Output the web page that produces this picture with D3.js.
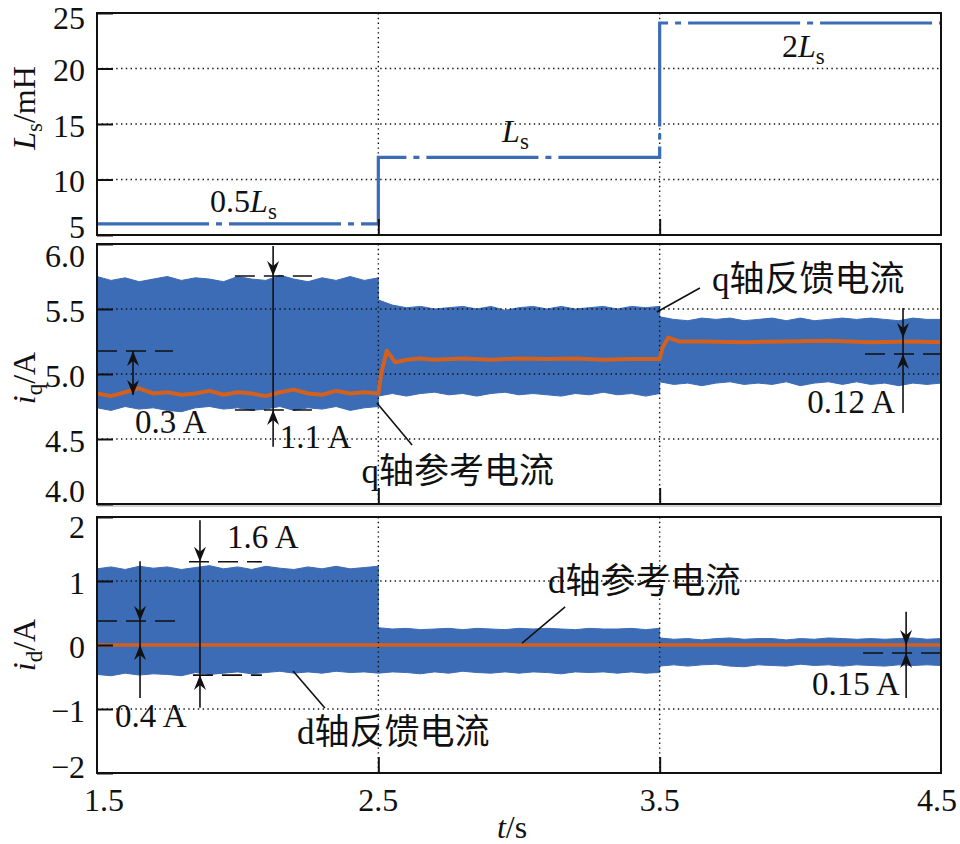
<!DOCTYPE html>
<html><head><meta charset="utf-8">
<script src="https://cdn.jsdelivr.net/npm/d3@7"></script>
<style>body{margin:0;background:#fff}svg{display:block}</style>
</head><body>
<svg id="c" width="960" height="844"></svg>
<script>
// ---------- data ----------
const xTicks = [1.5, 2.5, 3.5, 4.5];
const xTickLabels = ["1.5", "2.5", "3.5", "4.5"];
const lsTicks = [5, 10, 15, 20, 25];
const iqTicks = [4.0, 4.5, 5.0, 5.5, 6.0];
const iqTickLabels = ["4.0", "4.5", "5.0", "5.5", "6.0"];
const idTicks = [-2, -1, 0, 1, 2];
const idTickLabels = ["\u22122", "\u22121", "0", "1", "2"];

// inductance step profile (mH)
const lsTime   = [1.5, 2.5, 2.5, 3.5, 3.5, 4.5];
const lsValues = [6, 6, 12, 12, 24.1, 24.1];

// sample times of the current envelopes (s)
const bandTime = [
  1.5,1.55,1.6,1.65,1.7,1.75,1.8,1.85,1.9,1.95,2.0,2.05,2.1,2.15,2.2,2.25,2.3,2.35,2.4,2.45,2.5,
  2.5,2.55,2.6,2.65,2.7,2.75,2.8,2.85,2.9,2.95,3.0,3.05,3.1,3.15,3.2,3.25,3.3,3.35,3.4,3.45,3.5,
  3.5,3.55,3.6,3.65,3.7,3.75,3.8,3.85,3.9,3.95,4.0,4.05,4.1,4.15,4.2,4.25,4.3,4.35,4.4,4.45,4.5
];
// q-axis feedback current envelope (A)
const iqUpper = [
  5.75,5.72,5.74,5.71,5.73,5.75,5.72,5.74,5.73,5.71,5.75,5.73,5.72,5.76,5.73,5.71,5.74,5.72,5.75,5.72,5.74,
  5.57,5.53,5.51,5.52,5.50,5.51,5.52,5.50,5.52,5.49,5.51,5.52,5.50,5.52,5.50,5.51,5.52,5.50,5.52,5.51,5.52,
  5.44,5.42,5.41,5.43,5.42,5.43,5.41,5.42,5.43,5.41,5.43,5.41,5.42,5.43,5.42,5.43,5.42,5.41,5.43,5.42,5.42
];
const iqLower = [
  4.74,4.72,4.75,4.73,4.74,4.72,4.71,4.74,4.75,4.73,4.74,4.72,4.73,4.75,4.72,4.74,4.73,4.75,4.72,4.74,4.75,
  4.83,4.85,4.83,4.85,4.86,4.84,4.85,4.83,4.85,4.86,4.84,4.85,4.84,4.83,4.85,4.84,4.86,4.84,4.85,4.83,4.85,
  4.94,4.92,4.93,4.91,4.93,4.94,4.92,4.93,4.92,4.94,4.91,4.93,4.94,4.92,4.94,4.92,4.93,4.91,4.93,4.92,4.93
];
// q-axis reference current (A)
const iqRefTime = [
  1.5,1.55,1.6,1.65,1.7,1.75,1.8,1.85,1.9,1.95,2.0,2.05,2.1,2.15,2.2,2.25,2.3,2.35,2.4,2.45,2.5,
  2.51,2.53,2.56,2.6,2.65,2.7,2.8,2.9,3.0,3.1,3.2,3.3,3.4,3.5,
  3.51,3.53,3.57,3.65,3.8,3.95,4.1,4.25,4.4,4.5
];
const iqRefValues = [
  4.85,4.83,4.86,4.89,4.85,4.86,4.84,4.85,4.87,4.84,4.86,4.85,4.83,4.86,4.88,4.85,4.84,4.87,4.85,4.86,4.85,
  5.0,5.18,5.09,5.11,5.12,5.11,5.12,5.11,5.12,5.115,5.12,5.11,5.115,5.115,
  5.2,5.28,5.25,5.25,5.245,5.25,5.255,5.245,5.25,5.245
];
// d-axis feedback current envelope (A)
const idUpper = [
  1.19,1.22,1.18,1.23,1.20,1.22,1.18,1.21,1.24,1.19,1.22,1.18,1.23,1.20,1.18,1.22,1.19,1.23,1.19,1.21,1.23,
  0.27,0.25,0.26,0.24,0.25,0.26,0.24,0.26,0.25,0.24,0.26,0.25,0.26,0.25,0.24,0.26,0.25,0.25,0.26,0.24,0.26,
  0.11,0.09,0.10,0.08,0.10,0.11,0.09,0.10,0.10,0.08,0.10,0.09,0.11,0.10,0.09,0.10,0.09,0.10,0.11,0.09,0.10
];
const idLower = [
  -0.46,-0.48,-0.44,-0.47,-0.45,-0.46,-0.48,-0.43,-0.46,-0.44,-0.42,-0.45,-0.43,-0.41,-0.44,-0.42,-0.44,-0.41,-0.43,-0.42,-0.44,
  -0.44,-0.42,-0.43,-0.45,-0.42,-0.44,-0.41,-0.43,-0.44,-0.42,-0.44,-0.42,-0.43,-0.45,-0.42,-0.43,-0.42,-0.44,-0.42,-0.44,-0.43,
  -0.33,-0.31,-0.33,-0.31,-0.30,-0.33,-0.34,-0.31,-0.32,-0.33,-0.30,-0.32,-0.31,-0.33,-0.31,-0.32,-0.33,-0.31,-0.32,-0.31,-0.32
];
// d-axis reference current (A)
const idRefTime = [1.5, 4.5];
const idRefValues = [0, 0];

// ---------- drawing ----------
const BLUE = "#3b6cb5", ORANGE = "#d4601e";
const SERIF = "'Liberation Serif','Times New Roman',serif";
const CJK = "'Liberation Serif','Noto Sans CJK SC',serif";
const svg = d3.select("#c");
const x = d3.scaleLinear().domain([1.5, 4.5]).range([97, 941]);

svg.append("line").attr("x1", 97).attr("x2", 941).attr("y1", 506).attr("y2", 506)
  .attr("stroke", "#c4c4c4").attr("stroke-width", 1.5);

function panel(id, top, bottom, domain, ticks, tickLabels, gridVals, shiftBottom, shiftTop) {
  const y = d3.scaleLinear().domain(domain).range([bottom, top]);
  const g = svg.append("g");
  g.append("clipPath").attr("id", id).append("rect")
    .attr("x", x.range()[0]).attr("y", top).attr("width", x.range()[1] - x.range()[0]).attr("height", bottom - top);
  const content = g.append("g").attr("clip-path", `url(#${id})`);
  const grid = g.append("g");
  const over = g.append("g").attr("clip-path", `url(#${id})`);
  const frameG = g.append("g");
  gridVals.forEach(v => grid.append("line").attr("x1", x.range()[0]).attr("x2", x.range()[1])
    .attr("y1", y(v)).attr("y2", y(v)).attr("stroke", "#111").attr("stroke-width", 1.4).attr("stroke-dasharray", "1.4,3.4"));
  [2.5, 3.5].forEach(t => grid.append("line").attr("x1", x(t)).attr("x2", x(t))
    .attr("y1", top).attr("y2", bottom).attr("stroke", "#111").attr("stroke-width", 1.4).attr("stroke-dasharray", "1.4,3.4"));
  frameG.append("rect").attr("x", x.range()[0]).attr("y", top).attr("width", x.range()[1] - x.range()[0])
    .attr("height", bottom - top).attr("fill", "none").attr("stroke", "#111").attr("stroke-width", 2);
  const yAxis = d3.axisLeft(y).tickValues(ticks).tickSize(-16).tickFormat((d, i) => tickLabels[i]);
  const ya = frameG.append("g").attr("transform", `translate(${x.range()[0]},0)`).call(yAxis);
  ya.select(".domain").remove();
  ya.selectAll(".tick line").attr("stroke", "#111").attr("stroke-width", 2);
  ya.selectAll(".tick text").attr("x", -12).attr("font-family", SERIF).attr("font-size", 32).attr("fill", "#111")
    .attr("transform", (d, i) => `translate(0,${i === 0 ? shiftBottom : i === ticks.length - 1 ? shiftTop : 2})`);
  const xAxis = d3.axisBottom(x).tickValues([2.5, 3.5]).tickSize(-16).tickFormat("");
  const xa = frameG.append("g").attr("transform", `translate(0,${bottom})`).call(xAxis);
  xa.select(".domain").remove();
  xa.selectAll(".tick line").attr("stroke", "#111").attr("stroke-width", 2);
  return {y, content, over, g};
}

// ---- panel 1: Ls ----
const p1 = panel("c1", 13, 235, [5, 25], lsTicks, lsTicks.map(String), [10, 15, 20], -8, 5);
p1.over.append("path")
  .attr("d", d3.line().x(d => x(d[0])).y(d => p1.y(d[1]))(lsTime.map((t, i) => [t, lsValues[i]])))
  .attr("fill", "none").attr("stroke", BLUE).attr("stroke-width", 3.2)
  .attr("stroke-dasharray", "112,7,6,7");

// ---- panel 2: iq ----
const p2 = panel("c2", 244, 504, [4, 6], iqTicks, iqTickLabels, [4.5, 5.0, 5.5], -13, 12);
p2.content.append("path")
  .attr("d", d3.area().x(d => x(d.t)).y0(d => p2.y(d.lo)).y1(d => p2.y(d.hi))
    (bandTime.map((t, i) => ({t, lo: iqLower[i], hi: iqUpper[i]}))))
  .attr("fill", BLUE).attr("stroke", BLUE).attr("stroke-width", 1);
p2.over.append("path")
  .attr("d", d3.line().x(d => x(d[0])).y(d => p2.y(d[1]))(iqRefTime.map((t, i) => [t, iqRefValues[i]])))
  .attr("fill", "none").attr("stroke", ORANGE).attr("stroke-width", 4).attr("stroke-linejoin", "round");

// ---- panel 3: id ----
const p3 = panel("c3", 517, 773, [-2, 2], idTicks, idTickLabels, [-1, 0, 1], -6, 10);
p3.content.append("path")
  .attr("d", d3.area().x(d => x(d.t)).y0(d => p3.y(d.lo)).y1(d => p3.y(d.hi))
    (bandTime.map((t, i) => ({t, lo: idLower[i], hi: idUpper[i]}))))
  .attr("fill", BLUE).attr("stroke", BLUE).attr("stroke-width", 1);
p3.over.append("path")
  .attr("d", d3.line().x(d => x(d[0])).y(d => p3.y(d[1]))(idRefTime.map((t, i) => [t, idRefValues[i]])))
  .attr("fill", "none").attr("stroke", ORANGE).attr("stroke-width", 3.5);

// x tick labels
svg.append("g").selectAll("text").data(xTicks).join("text")
  .attr("x", (d, i) => x(d) + (i === 0 ? 7 : i === 3 ? -4 : 0)).attr("y", 811)
  .attr("text-anchor", "middle").attr("font-family", SERIF).attr("font-size", 32).attr("fill", "#111")
  .text((d, i) => xTickLabels[i]);

// axis titles
function rich(sel, parts) {
  parts.forEach(p => {
    const ts = sel.append("tspan").text(p.s);
    if (p.i) ts.attr("font-style", "italic");
    if (p.sub) ts.attr("font-size", 23).attr("dy", 7);
    if (p.up) ts.attr("dy", -7);
  });
  return sel;
}
function yTitle(cy, parts) {
  const t = svg.append("text").attr("transform", `translate(35,${cy}) rotate(-90)`)
    .attr("text-anchor", "middle").attr("font-family", SERIF).attr("font-size", 32).attr("fill", "#111");
  rich(t, parts);
}
yTitle(108, [{s: "L", i: 1}, {s: "s", sub: 1}, {s: "/mH", up: 1}]);
yTitle(378, [{s: "i", i: 1}, {s: "q", sub: 1}, {s: "/A", up: 1}]);
yTitle(645, [{s: "i", i: 1}, {s: "d", sub: 1}, {s: "/A", up: 1}]);
rich(svg.append("text").attr("x", 512).attr("y", 838).attr("text-anchor", "middle")
  .attr("font-family", SERIF).attr("font-size", 32).attr("fill", "#111"), [{s: "t", i: 1}, {s: "/s"}]);

// ---------- annotations ----------
const ann = svg.append("g");
function label(p, t, v, parts, anchor, size, fam) {
  const el = ann.append("text").attr("x", x(t)).attr("y", p.y(v)).attr("text-anchor", anchor || "start")
    .attr("font-family", fam || SERIF).attr("font-size", size || 33).attr("fill", "#111");
  rich(el, parts);
}
function seg(x1, y1, x2, y2, dash) {
  const l = ann.append("line").attr("x1", x1).attr("y1", y1).attr("x2", x2).attr("y2", y2)
    .attr("stroke", "#111").attr("stroke-width", 1.6);
  if (dash) l.attr("stroke-dasharray", "20,9");
}
function head(px, py, dir) {
  const L = 15, N = 10, W = 6;
  ann.append("path").attr("d",
    `M${px},${py} L${px - W},${py - dir * L} L${px},${py - dir * N} L${px + W},${py - dir * L} Z`).attr("fill", "#111");
}
function dashH(p, t0, t1, v) { seg(x(t0), p.y(v), x(t1), p.y(v), true); }
function vline(p, t, v0, v1) { seg(x(t), p.y(v0), x(t), p.y(v1)); }

// panel 1 labels
label(p1, 1.902, 7.1, [{s: "0.5"}, {s: "L", i: 1}, {s: "s", sub: 1}], "start", 32);
label(p1, 2.94, 13.4, [{s: "L", i: 1}, {s: "s", sub: 1}], "start", 32);
label(p1, 3.935, 21.0, [{s: "2"}, {s: "L", i: 1}, {s: "s", sub: 1}], "start", 32);

// panel 2: 0.3 A
dashH(p2, 1.5, 1.77, 5.177);
vline(p2, 1.628, 5.177, 4.838);
head(x(1.628), p2.y(5.177), -1);
head(x(1.628), p2.y(4.838), 1);
label(p2, 1.635, 4.546, [{s: "0.3 A"}]);
// panel 2: 1.1 A
dashH(p2, 1.99, 2.264, 5.754);
dashH(p2, 1.99, 2.264, 4.723);
vline(p2, 2.126, 5.985, 4.44);
head(x(2.126), p2.y(5.754), 1);
head(x(2.126), p2.y(4.723), -1);
label(p2, 2.15, 4.43, [{s: "1.1 A"}]);
// panel 2: 0.12 A
dashH(p2, 4.23, 4.5, 5.154);
vline(p2, 4.365, 5.508, 4.70);
head(x(4.365), p2.y(5.277), 1);
head(x(4.365), p2.y(5.154), -1);
label(p2, 4.337, 4.70, [{s: "0.12 A"}], "end");
// panel 2 leaders
seg(x(2.495), p2.y(4.777), x(2.62), p2.y(4.454));
label(p2, 2.44, 4.165, [{s: "q轴参考电流"}], "start", 35, CJK);
seg(x(3.49), p2.y(5.477), x(3.643), p2.y(5.662));
label(p2, 3.686, 5.64, [{s: "q轴反馈电流"}], "start", 35, CJK);

// panel 3: 0.4 A
dashH(p3, 1.5, 1.784, 0.375);
vline(p3, 1.653, 1.31, -0.83);
head(x(1.653), p3.y(0.375), 1);
head(x(1.653), p3.y(0), -1);
label(p3, 1.564, -1.28, [{s: "0.4 A"}]);
// panel 3: 1.6 A
dashH(p3, 1.827, 2.086, 1.30);
dashH(p3, 1.841, 2.086, -0.47);
vline(p3, 1.866, 1.95, -0.98);
head(x(1.866), p3.y(1.30), 1);
head(x(1.866), p3.y(-0.47), -1);
label(p3, 1.962, 1.515, [{s: "1.6 A"}]);
// panel 3: 0.15 A
dashH(p3, 4.223, 4.5, -0.125);
vline(p3, 4.376, 0.52, -0.83);
head(x(4.376), p3.y(0), 1);
head(x(4.376), p3.y(-0.125), -1);
label(p3, 4.354, -0.78, [{s: "0.15 A"}], "end");
// panel 3 leaders
seg(x(3.011), p3.y(0.031), x(3.164), p3.y(0.594));
label(p3, 3.103, 0.82, [{s: "d轴参考电流"}], "start", 35, CJK);
seg(x(2.197), p3.y(-0.406), x(2.31), p3.y(-0.984));
label(p3, 2.211, -1.55, [{s: "d轴反馈电流"}], "start", 35, CJK);
</script>
</body></html>
